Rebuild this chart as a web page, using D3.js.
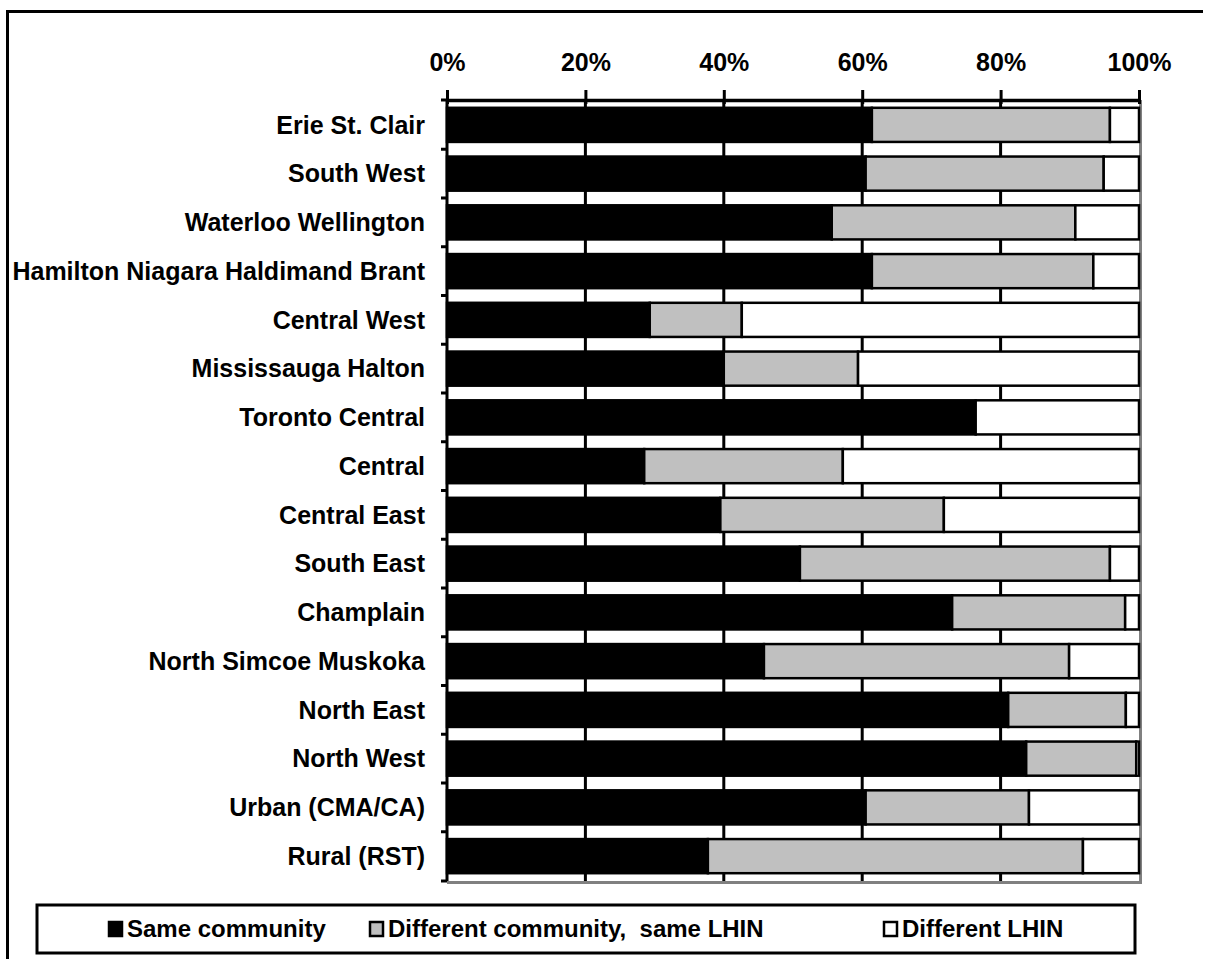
<!DOCTYPE html>
<html>
<head>
<meta charset="utf-8">
<script src="https://cdn.jsdelivr.net/npm/d3@7"></script>
<style>
  body { margin: 0; background: #fff; overflow: hidden; }
  svg { display: block; }
  text { font-family: "Liberation Sans", Arial, sans-serif; font-weight: bold; fill: #000; }
</style>
</head>
<body>
<div id="chart"></div>
<script>
// regions (top to bottom)
const regions = [
  'Erie St. Clair', 'South West', 'Waterloo Wellington', 'Hamilton Niagara Haldimand Brant',
  'Central West', 'Mississauga Halton', 'Toronto Central', 'Central', 'Central East',
  'South East', 'Champlain', 'North Simcoe Muskoka', 'North East', 'North West',
  'Urban (CMA/CA)', 'Rural (RST)'
];

// shares in %
const sameCommunity = [61.4, 60.5, 55.6, 61.4, 29.3, 40.0, 76.4, 28.5, 39.5, 51.0, 73.0, 45.8, 81.1, 83.7, 60.5, 37.7];
const diffCommunitySameLhin = [34.4, 34.4, 35.2, 32.0, 13.3, 19.4, 0.0, 28.7, 32.3, 44.8, 25.0, 44.1, 17.0, 15.9, 23.6, 54.2];
const diffLhin = [4.2, 5.1, 9.2, 6.6, 57.4, 40.6, 23.6, 42.8, 28.2, 4.2, 2.0, 10.1, 1.9, 0.4, 15.9, 8.1];

const seriesNames = ['Same community', 'Different community,  same LHIN', 'Different LHIN'];
const seriesColors = ['#000000', '#c0c0c0', '#ffffff'];
const tickValues = [0, 20, 40, 60, 80, 100];

const width = 1207;
const height = 959;

const svg = d3.select('#chart')
  .append('svg')
  .attr('width', width)
  .attr('height', height);

// outer frame: only top and left edges are inside the picture
svg.append('path')
  .attr('d', `M7.5,${height} V11.5 H${width - 4}`)
  .attr('fill', 'none')
  .attr('stroke', '#000')
  .attr('stroke-width', 3);

const x = d3.scaleLinear().domain([0, 100]).range([447, 1139]);
const y = d3.scaleBand().domain(regions).range([100, 881]).paddingInner(0.3).paddingOuter(0.16);

// stacked rows
const rows = regions.map((r, i) => ({
  region: r,
  values: [sameCommunity[i], diffCommunitySameLhin[i], diffLhin[i]]
}));
const stacked = d3.stack()
  .keys([0, 1, 2])
  .value((d, k) => d.values[k])(rows);

// plot area shadow (grey right/bottom edge)
svg.append('path')
  .attr('d', `M${x(100) + 1.5},${y.range()[0]} V${y.range()[1] + 1.5} H${x(0)}`)
  .attr('fill', 'none')
  .attr('stroke', '#808080')
  .attr('stroke-width', 3);

// vertical gridlines
svg.append('g')
  .selectAll('line')
  .data(tickValues.filter(t => t > 0 && t < 100))
  .enter()
  .append('line')
  .attr('x1', d => x(d)).attr('x2', d => x(d))
  .attr('y1', y.range()[0]).attr('y2', y.range()[1])
  .attr('stroke', '#000')
  .attr('stroke-width', 3);

// bars
svg.append('g')
  .selectAll('g')
  .data(stacked)
  .enter()
  .append('g')
  .attr('fill', (d, i) => seriesColors[i])
  .selectAll('rect')
  .data(d => d.filter(s => s[1] - s[0] > 0))
  .enter()
  .append('rect')
  .attr('x', d => x(d[0]))
  .attr('y', d => y(d.data.region))
  .attr('width', d => x(d[1]) - x(d[0]))
  .attr('height', y.bandwidth())
  .attr('stroke', '#000')
  .attr('stroke-width', 2.5);

// top axis
const xAxis = svg.append('g')
  .attr('transform', `translate(0,${y.range()[0]})`)
  .call(d3.axisTop(x).tickValues(tickValues).tickFormat(d => d + '%').tickSize(10).tickPadding(19).tickSizeOuter(0));
xAxis.select('.domain').attr('stroke-width', 3.5);
xAxis.selectAll('.tick line').attr('stroke-width', 3).attr('y2', -10).attr('y1', 4);
xAxis.selectAll('.tick text')
  .attr('font-size', '25px')
  .attr('font-family', '"Liberation Sans", Arial, sans-serif')
  .attr('font-weight', 'bold')
  .attr('fill', '#000');

// left axis line with ticks at category boundaries
const boundaries = regions.map(r => y(r) - y.step() * y.paddingInner() / 2)
  .concat([y.range()[1]]);
boundaries[0] = y.range()[0];
svg.append('line')
  .attr('x1', x(0)).attr('x2', x(0))
  .attr('y1', y.range()[0]).attr('y2', y.range()[1])
  .attr('stroke', '#000')
  .attr('stroke-width', 3);
svg.append('g')
  .selectAll('line')
  .data(boundaries)
  .enter()
  .append('line')
  .attr('x1', x(0) - 6).attr('x2', x(0))
  .attr('y1', d => d).attr('y2', d => d)
  .attr('stroke', '#000')
  .attr('stroke-width', 3);

// category labels
svg.append('g')
  .selectAll('text')
  .data(regions)
  .enter()
  .append('text')
  .attr('x', 425)
  .attr('y', d => y(d) + y.bandwidth() / 2)
  .attr('dy', '0.35em')
  .attr('text-anchor', 'end')
  .attr('font-size', '25px')
  .text(d => d);

// legend
const legend = svg.append('g');
legend.append('rect')
  .attr('x', 37).attr('y', 905)
  .attr('width', 1098).attr('height', 48)
  .attr('fill', '#fff')
  .attr('stroke', '#000')
  .attr('stroke-width', 3);
const legendX = [109, 370, 884];
const items = legend.selectAll('g.item')
  .data(seriesNames)
  .enter()
  .append('g')
  .attr('transform', (d, i) => `translate(${legendX[i]},929)`);
items.append('rect')
  .attr('x', 0).attr('y', -7)
  .attr('width', 13).attr('height', 14)
  .attr('fill', (d, i) => seriesColors[i])
  .attr('stroke', '#000')
  .attr('stroke-width', 2.5);
items.append('text')
  .attr('x', 18)
  .attr('dy', '0.35em')
  .attr('font-size', '24px')
  .text(d => d.replace(/ /g, '\u00a0'));
</script>
</body>
</html>
